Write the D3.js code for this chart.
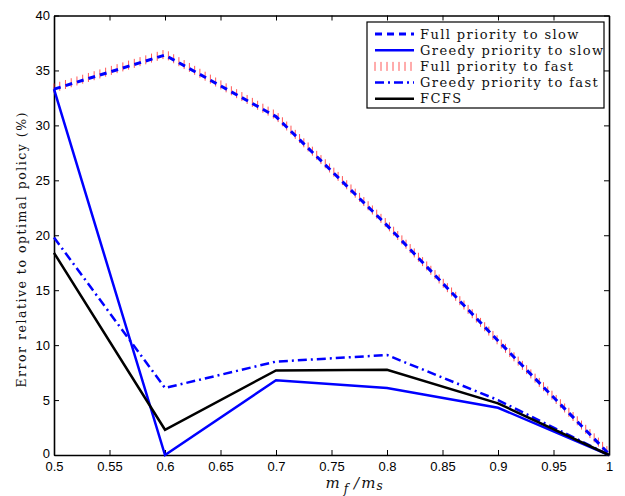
<!DOCTYPE html>
<html>
<head>
<meta charset="utf-8">
<script src="https://cdn.jsdelivr.net/npm/d3@7"></script>
<style>
  body { margin: 0; background: #fff; }
  svg { display: block; }
</style>
</head>
<body>
<div id="chart"></div>
<script>
const ratios = [0.5, 0.6, 0.7, 0.8, 0.9, 1.0];
const fullSlow   = [33.3, 36.4, 30.8, 20.9, 10.4, 0.1];
const greedySlow = [33.3, 0.0, 6.8, 6.1, 4.3, 0.0];
const fullFast   = [33.4, 36.5, 30.9, 21.0, 10.4, 0.2];
const greedyFast = [19.8, 6.1, 8.5, 9.1, 5.0, 0.0];
const fcfs       = [18.4, 2.3, 7.7, 7.75, 4.7, 0.0];
const xTicks = [0.5, 0.55, 0.6, 0.65, 0.7, 0.75, 0.8, 0.85, 0.9, 0.95, 1];
const yTicks = [0, 5, 10, 15, 20, 25, 30, 35, 40];

const series = [
    {name: "Full priority to slow", values: fullSlow, style: "dash"},
    {name: "Greedy priority to slow", values: greedySlow, style: "solidBlue"},
    {name: "Full priority to fast", values: fullFast, style: "ticks"},
    {name: "Greedy priority to fast", values: greedyFast, style: "dashdot"},
    {name: "FCFS", values: fcfs, style: "solidBlack"}
];

const margin = {top: 15.5, right: 16, bottom: 41, left: 54};
const W = 625, H = 496;
const width = W - margin.left - margin.right;
const height = H - margin.top - margin.bottom;
const serif = "'DejaVu Serif', 'Liberation Serif', serif";

const svg = d3.select("#chart").append("svg")
    .attr("width", W).attr("height", H);
const g = svg.append("g")
    .attr("transform", `translate(${margin.left},${margin.top})`);

const x = d3.scaleLinear().domain([0.5, 1]).range([0, width]);
const y = d3.scaleLinear().domain([0, 40]).range([height, 0]);

const line = d3.line().x((d, i) => x(ratios[i])).y(d => y(d));

// axes, ticks inward, mirrored on top and right
const tickFont = "'Liberation Sans', Arial, sans-serif";
const bottomAxis = g.append("g").attr("transform", `translate(0,${height})`)
    .call(d3.axisBottom(x).tickValues(xTicks).tickSizeInner(-5).tickSizeOuter(0)
        .tickPadding(7).tickFormat(d => d3.format("")(+d.toFixed(2))));
const leftAxis = g.append("g")
    .call(d3.axisLeft(y).tickValues(yTicks).tickSizeInner(-5).tickSizeOuter(0).tickPadding(4));
const topAxis = g.append("g")
    .call(d3.axisTop(x).tickValues(xTicks).tickSizeInner(-5).tickSizeOuter(0).tickFormat(""));
const rightAxis = g.append("g").attr("transform", `translate(${width},0)`)
    .call(d3.axisRight(y).tickValues(yTicks).tickSizeInner(-5).tickSizeOuter(0).tickFormat(""));
[bottomAxis, leftAxis, topAxis, rightAxis].forEach(a => {
    a.select(".domain").attr("stroke", "#000").attr("stroke-width", 1.6);
    a.selectAll(".tick line").attr("stroke", "#000").attr("stroke-width", 1);
    a.selectAll("text").attr("font-family", tickFont).attr("font-size", 13).attr("fill", "#000");
});
// lift the "0" a touch so it clears "0.5"
leftAxis.selectAll(".tick text").filter(d => d === 0).attr("dy", "0.2em");

const plot = g.append("g");

function drawSeries(sel, s, pathData) {
    if (s.style === "dash") {
        sel.append("path").attr("d", pathData).attr("fill", "none")
            .attr("stroke", "#0000ff").attr("stroke-width", 3).attr("stroke-dasharray", "7,5");
    } else if (s.style === "solidBlue") {
        sel.append("path").attr("d", pathData).attr("fill", "none")
            .attr("stroke", "#0000ff").attr("stroke-width", 2.5);
    } else if (s.style === "dashdot") {
        sel.append("path").attr("d", pathData).attr("fill", "none")
            .attr("stroke", "#0000ff").attr("stroke-width", 2.5).attr("stroke-dasharray", "9,4,2,4");
    } else if (s.style === "solidBlack") {
        sel.append("path").attr("d", pathData).attr("fill", "none")
            .attr("stroke", "#000").attr("stroke-width", 2.5);
    } else if (s.style === "ticks") {
        // red vertical ticks spaced along the path
        const tmp = sel.append("path").attr("d", pathData).attr("fill", "none").attr("stroke", "none");
        const node = tmp.node();
        const len = node.getTotalLength();
        const pts = d3.range(0, len, 6).map(l => node.getPointAtLength(l));
        sel.selectAll(null).data(pts).join("line")
            .attr("x1", p => p.x).attr("x2", p => p.x)
            .attr("y1", p => p.y - 4.5).attr("y2", p => p.y + 4.5)
            .attr("stroke", "#ff3030").attr("stroke-width", 1).attr("opacity", 0.8);
    }
}

// draw order: fast (ticks) under the blue dashed line
const order = [2, 0, 1, 3, 4];
order.forEach(i => drawSeries(plot.append("g"), series[i], line(series[i].values)));

// legend
const lg = g.append("g").attr("transform", `translate(${367 - margin.left},${22 - margin.top})`);
lg.append("rect").attr("width", 237).attr("height", 86)
    .attr("fill", "#fff").attr("stroke", "#000").attr("stroke-width", 1.2);
series.forEach((s, i) => {
    const row = lg.append("g").attr("transform", `translate(0,${12 + i * 16.2})`);
    drawSeries(row, s, d3.line()([[8, 0], [47, 0]]));
    row.append("text").attr("x", 53).attr("y", 0).attr("dy", "0.35em")
        .attr("font-family", serif).attr("font-size", 13)
        .attr("letter-spacing", 1.4)
        .attr("fill", "#111").text(s.name);
});

// axis titles
svg.append("text")
    .attr("transform", `translate(26,250) rotate(-90)`)
    .attr("text-anchor", "middle")
    .attr("font-family", serif).attr("font-size", 12.5).attr("fill", "#111")
    .attr("textLength", 275).attr("lengthAdjust", "spacing")
    .text("Error relative to optimal policy (%)");

const xl = svg.append("text")
    .attr("x", 354).attr("y", 488)
    .attr("text-anchor", "middle")
    .attr("font-family", serif).attr("font-style", "italic")
    .attr("font-size", 15).attr("fill", "#111");
xl.append("tspan").text("m");
xl.append("tspan").attr("font-size", 12).attr("dy", 5).attr("dx", 4).text("f");
xl.append("tspan").attr("dy", -5).attr("dx", 6).text("/");
xl.append("tspan").attr("dx", 2).text("m");
xl.append("tspan").attr("font-size", 12).attr("dy", 2).attr("dx", 1).text("s");
</script>
</body>
</html>
